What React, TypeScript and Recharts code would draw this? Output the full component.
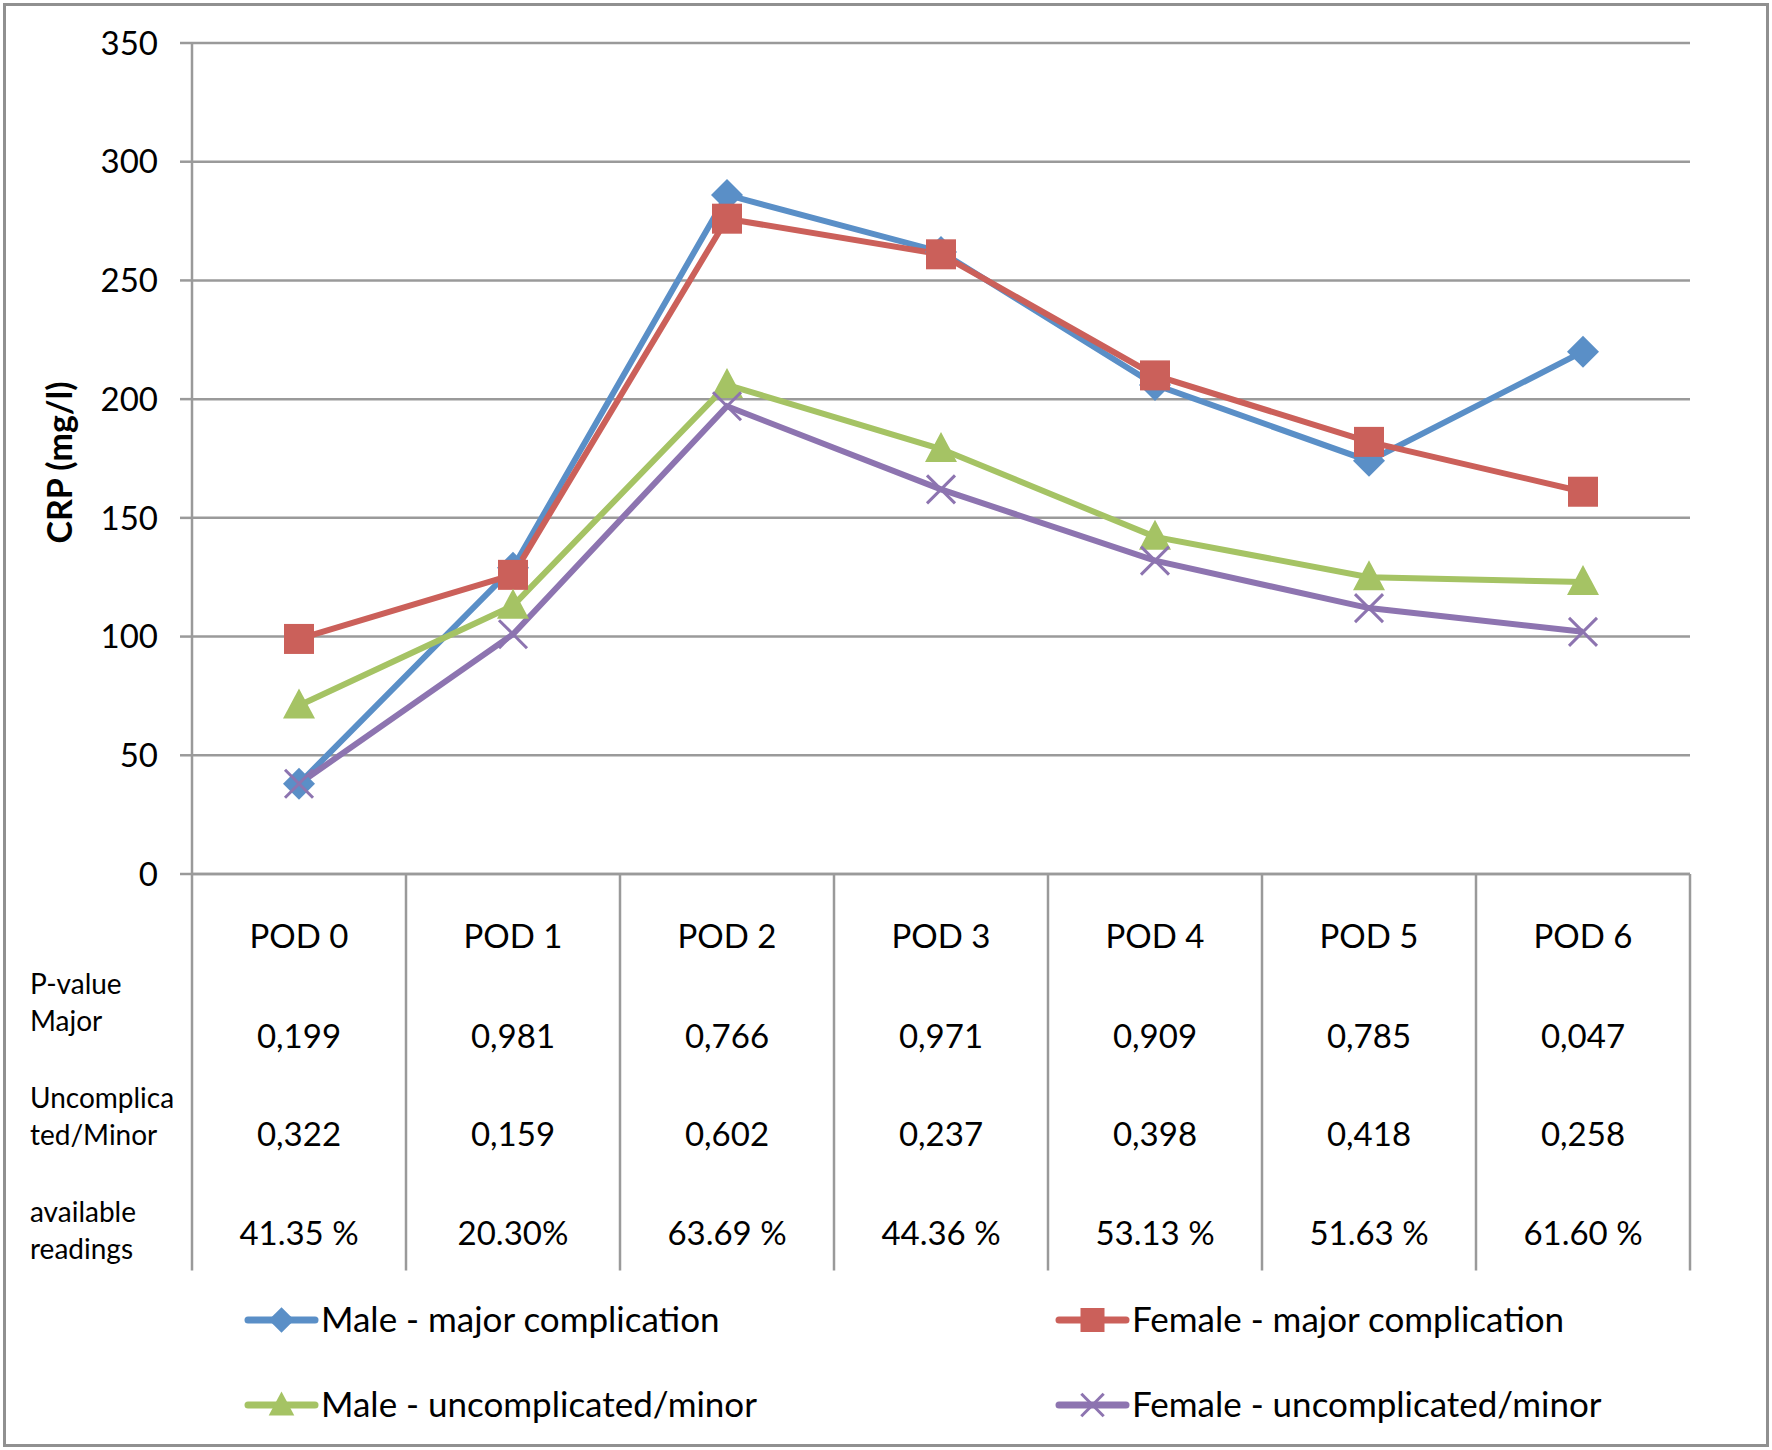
import React from "react";
import { CartesianGrid, Legend, Line, LineChart, ReferenceLine, XAxis, YAxis } from "recharts";

const days = ["POD 0", "POD 1", "POD 2", "POD 3", "POD 4", "POD 5", "POD 6"];

const maleMajor = [38, 129, 286, 262, 206, 174, 220];
const femaleMajor = [99, 126, 276, 261, 210, 182, 161];
const maleMinor = [71, 113, 206, 179, 142, 125, 123];
const femaleMinor = [38, 101, 197, 162, 132, 112, 102];

const pMajor = ["0,199", "0,981", "0,766", "0,971", "0,909", "0,785", "0,047"];
const pMinor = ["0,322", "0,159", "0,602", "0,237", "0,398", "0,418", "0,258"];
const readings = ["41.35 %", "20.30%", "63.69 %", "44.36 %", "53.13 %", "51.63 %", "61.60 %"];
const rowHeads = [
  ["P-value", "Major"],
  ["Uncomplica", "ted/Minor"],
  ["available", "readings"],
];

const yTicks = [0, 50, 100, 150, 200, 250, 300, 350];

const series = [
  { key: "maleMajor", name: "Male - major complication", color: "#5a8fc7", shape: "diamond" },
  { key: "femaleMajor", name: "Female - major complication", color: "#cb605a", shape: "square" },
  { key: "maleMinor", name: "Male - uncomplicated/minor", color: "#a5c364", shape: "triangle" },
  { key: "femaleMinor", name: "Female - uncomplicated/minor", color: "#8d74b0", shape: "cross" },
];

const data = days.map((day, i) => ({
  idx: i,
  day,
  maleMajor: maleMajor[i],
  femaleMajor: femaleMajor[i],
  maleMinor: maleMinor[i],
  femaleMinor: femaleMinor[i],
}));

// category edges for the table grid, and how far below 0 (in mg/l) the table reaches
const edges = [...days.map((_, i) => i - 0.5), days.length - 0.5];
const tableBottom = -167;

const FONT = "Lato, 'Open Sans', sans-serif";
const GREY = "#9a9a9a";

function marker(shape: string, cx: number, cy: number, color: string, s = 1, key?: any) {
  if (shape === "diamond") {
    const h = 16 * s;
    return <polygon key={key} points={`${cx},${cy - h} ${cx + h},${cy} ${cx},${cy + h} ${cx - h},${cy}`} fill={color} />;
  }
  if (shape === "square") {
    const h = 15 * s;
    return <rect key={key} x={cx - h} y={cy - h} width={2 * h} height={2 * h} fill={color} />;
  }
  if (shape === "triangle") {
    const w = 16 * s;
    return <polygon key={key} points={`${cx},${cy - 17 * s} ${cx + w},${cy + 13 * s} ${cx - w},${cy + 13 * s}`} fill={color} />;
  }
  const h = 14 * s;
  return (
    <g key={key}>
      <line x1={cx - h} y1={cy - h} x2={cx + h} y2={cy + h} stroke={color} strokeWidth={3} />
      <line x1={cx - h} y1={cy + h} x2={cx + h} y2={cy - h} stroke={color} strokeWidth={3} />
    </g>
  );
}

function TableTick(props: any) {
  const { x, y, payload, index } = props;
  const i = payload.value;
  const txt = { fontFamily: FONT, fontSize: 33, fill: "#000", textAnchor: "middle" as const };
  return (
    <g>
      {index === 0 &&
        rowHeads.map((lines, r) =>
          lines.map((l, k) => (
            <text key={`${r}-${k}`} x={30} y={y + 120 + r * 114 + k * 37} fontFamily={FONT} fontSize={28} fill="#000">
              {l}
            </text>
          ))
        )}
      <text x={x} y={y + 74} {...txt}>{days[i]}</text>
      <text x={x} y={y + 174} {...txt}>{pMajor[i]}</text>
      <text x={x} y={y + 272} {...txt}>{pMinor[i]}</text>
      <text x={x} y={y + 371} {...txt}>{readings[i]}</text>
    </g>
  );
}

function YLabel(props: any) {
  const vb = props.viewBox ?? { x: 0, y: 43, width: 192, height: 831 };
  const cx = vb.x + 58;
  const cy = vb.y + vb.height / 2 + 4;
  return (
    <text x={cx} y={cy} transform={`rotate(-90 ${cx} ${cy})`} textAnchor="middle" dominantBaseline="central"
      fontFamily={FONT} fontSize={34} fontWeight="bold" fill="#000">
      CRP (mg/l)
    </text>
  );
}

function LegendBox() {
  const cols = [248, 1059];
  const rows = [37, 122];
  return (
    <svg width={1772} height={170}>
      {series.map((s, i) => {
        const x = cols[i % 2];
        const y = rows[Math.floor(i / 2)];
        return (
          <g key={s.key}>
            <line x1={x} y1={y} x2={x + 67} y2={y} stroke={s.color} strokeWidth={7} strokeLinecap="round" />
            {marker(s.shape, x + 33.5, y, s.color, 0.8)}
            <text x={x + 73} y={y + 12} fontFamily={FONT} fontSize={35} fill="#000">{s.name}</text>
          </g>
        );
      })}
    </svg>
  );
}

export default function App() {
  return (
    <div style={{ position: "absolute", left: 0, top: 0, width: 1772, height: 1450, background: "#fff", fontFamily: FONT }}>
      <LineChart width={1772} height={1450} data={data} margin={{ top: 43, right: 82, bottom: 176, left: 0 }}>
        <CartesianGrid vertical={false} stroke={GREY} strokeWidth={2.5} />
        <XAxis
          dataKey="idx"
          type="number"
          domain={[-0.5, 6.5]}
          ticks={days.map((_, i) => i)}
          interval={0}
          height={400}
          tickSize={0}
          tickMargin={0}
          tickLine={false}
          axisLine={{ stroke: GREY, strokeWidth: 2.5 }}
          tick={<TableTick />}
        />
        <YAxis
          domain={[0, 350]}
          ticks={yTicks}
          interval={0}
          width={192}
          tickSize={12}
          tickMargin={22}
          axisLine={{ stroke: GREY, strokeWidth: 2.5 }}
          tickLine={{ stroke: GREY, strokeWidth: 2.5 }}
          tick={{ fill: "#000", fontSize: 33, fontFamily: FONT }}
          label={<YLabel />}
        />
        {edges.map((e) => (
          <ReferenceLine
            key={e}
            segment={[{ x: e, y: 0 }, { x: e, y: tableBottom }]}
            stroke={GREY}
            strokeWidth={2.5}
            ifOverflow="visible"
          />
        ))}
        {series.map((s) => (
          <Line
            key={s.key}
            dataKey={s.key}
            name={s.name}
            type="linear"
            stroke={s.color}
            strokeWidth={6}
            isAnimationActive={false}
            dot={(p: any) => marker(s.shape, p.cx, p.cy, s.color, 1, `${s.key}-${p.index}`)}
            activeDot={false}
          />
        ))}
        <Legend
          layout="vertical"
          align="center"
          verticalAlign="middle"
          wrapperStyle={{ left: 0, top: 1283, width: 1772, height: 167 }}
          content={() => <LegendBox />}
        />
      </LineChart>
      <div
        style={{
          position: "absolute",
          left: 3,
          top: 3,
          width: 1766,
          height: 1444,
          border: "3px solid #909090",
          boxSizing: "border-box",
          pointerEvents: "none",
        }}
      />
    </div>
  );
}
